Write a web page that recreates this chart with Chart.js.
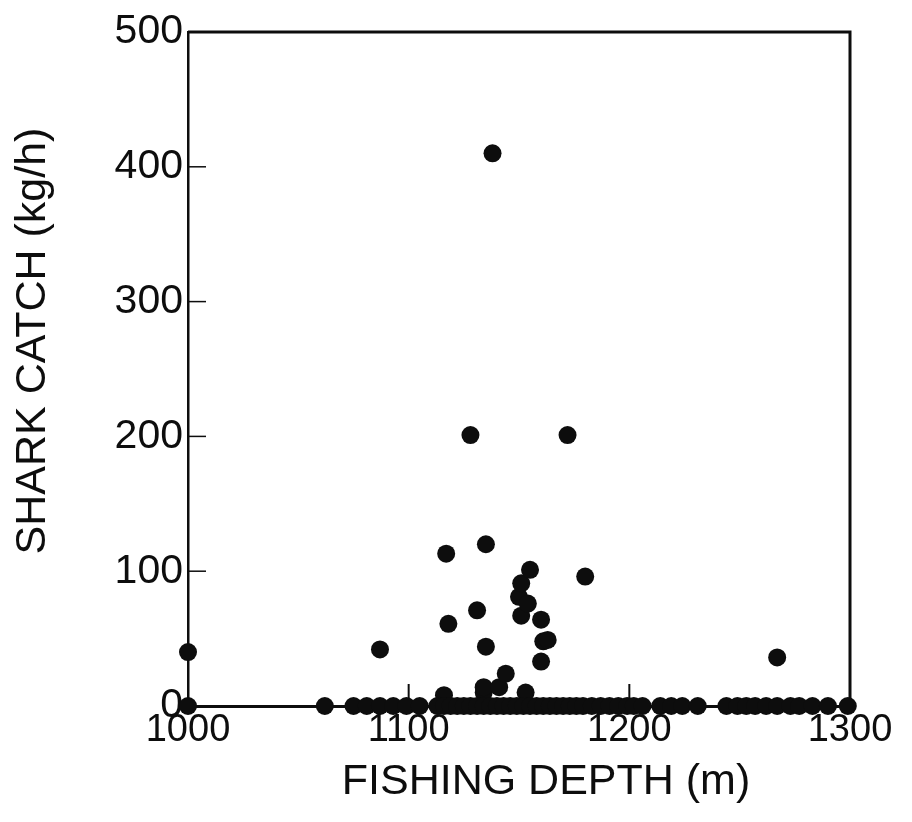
<!DOCTYPE html>
<html>
<head>
<meta charset="utf-8">
<script src="https://cdn.jsdelivr.net/npm/chart.js@4/dist/chart.umd.min.js"></script>
<style>
  html, body { margin: 0; padding: 0; background: #fff; }
  #wrap { width: 912px; height: 822px; }
</style>
</head>
<body>
<div id="wrap"><canvas id="c" width="912" height="822"></canvas></div>
<script>
// ---- data ----
const depthCatch = [1000, 1087, 1116, 1117, 1118, 1128, 1131, 1134, 1134, 1135, 1135, 1138, 1141, 1144,
                    1150, 1151, 1151, 1153, 1154, 1155, 1160, 1160, 1161, 1163, 1172, 1180, 1267];
const catchKgH   = [40, 42, 8, 113, 61, 201, 71, 10, 14, 44, 120, 410, 14, 24,
                    81, 91, 67, 10, 76, 101, 64, 33, 48, 49, 201, 96, 36];
const depthZeroCatch = [1000, 1062, 1075, 1081, 1087, 1093, 1099, 1105, 1113, 1116, 1119, 1122, 1125, 1128,
                        1131, 1134, 1137, 1140, 1143, 1146, 1149, 1152, 1155, 1158, 1161, 1164, 1167, 1170,
                        1173, 1176, 1179, 1183, 1187, 1191, 1195, 1199, 1202, 1206, 1214, 1219, 1224, 1231,
                        1244, 1249, 1253, 1257, 1262, 1267, 1273, 1277, 1283, 1290, 1299];
const xTickValues = [1000, 1100, 1200, 1300];
const yTickValues = [0, 100, 200, 300, 400, 500];
const xTitle = 'FISHING DEPTH (m)';
const yTitle = 'SHARK CATCH (kg/h)';

const positivePoints = depthCatch.map((d, i) => ({ x: d, y: catchKgH[i] }));
const zeroPoints = depthZeroCatch.map(d => ({ x: d, y: 0 }));

const INK = '#0d0d0d';
const FONT = "'Liberation Sans', Arial, Helvetica, sans-serif";

const frameAndTicks = {
  id: 'frameAndTicks',
  beforeDatasetsDraw(chart) {
    const { ctx, chartArea: a, scales } = chart;
    ctx.save();
    ctx.strokeStyle = INK;
    // box top and right
    ctx.lineWidth = 3;
    ctx.beginPath();
    ctx.moveTo(a.left, a.top);
    ctx.lineTo(a.right, a.top);
    ctx.lineTo(a.right, a.bottom);
    ctx.stroke();
    // inward ticks on y axis
    ctx.lineWidth = 1.5;
    scales.y.ticks.forEach(t => {
      if (t.value <= 0 || t.value >= 500) return;
      const py = scales.y.getPixelForValue(t.value);
      ctx.beginPath();
      ctx.moveTo(a.left, py);
      ctx.lineTo(a.left + 18, py);
      ctx.stroke();
    });
    // inward ticks on x axis
    ctx.lineWidth = 2;
    scales.x.ticks.forEach(t => {
      if (t.value <= 1000 || t.value >= 1300) return;
      const px = scales.x.getPixelForValue(t.value);
      ctx.beginPath();
      ctx.moveTo(px, a.bottom);
      ctx.lineTo(px, a.bottom - 22);
      ctx.stroke();
    });
    // axis titles (placed off-centre as in the reference)
    ctx.fillStyle = INK;
    ctx.font = "43px " + FONT;
    ctx.textAlign = 'center';
    ctx.textBaseline = 'middle';
    ctx.fillText(xTitle, (a.left + a.right) / 2 + 27, 782);
    ctx.translate(33, (a.top + a.bottom) / 2 - 28);
    ctx.rotate(-Math.PI / 2);
    ctx.fillText(yTitle, 0, 0);
    ctx.restore();
  }
};

new Chart(document.getElementById('c'), {
  type: 'scatter',
  data: {
    datasets: [
      { data: zeroPoints, pointRadius: 9, pointBackgroundColor: INK, pointBorderColor: INK, pointBorderWidth: 0, clip: false },
      { data: positivePoints, pointRadius: 9, pointBackgroundColor: INK, pointBorderColor: INK, pointBorderWidth: 0, clip: false }
    ]
  },
  options: {
    responsive: false,
    animation: false,
    devicePixelRatio: 1,
    layout: { padding: { left: 0, top: 32, right: 62, bottom: 0 } },
    plugins: { legend: { display: false }, tooltip: { enabled: false } },
    scales: {
      x: {
        type: 'linear',
        min: 1000, max: 1300,
        afterBuildTicks: s => { s.ticks = xTickValues.map(v => ({ value: v })); },
        afterFit: s => { s.height = 116; },
        grid: { display: false, drawTicks: false },
        border: { display: true, color: INK, width: 3 },
        ticks: { color: INK, font: { family: FONT, size: 38 }, padding: 2, maxRotation: 0,
                 callback: v => String(v) },
        title: { display: false, text: xTitle }
      },
      y: {
        type: 'linear',
        min: 0, max: 500,
        afterBuildTicks: s => { s.ticks = yTickValues.map(v => ({ value: v })); },
        afterFit: s => { s.width = 188; },
        grid: { display: false, drawTicks: false },
        border: { display: true, color: INK, width: 2.5 },
        ticks: { color: INK, font: { family: FONT, size: 41 }, padding: 5, callback: v => String(v) },
        title: { display: false, text: yTitle }
      }
    }
  },
  plugins: [frameAndTicks]
});
</script>
</body>
</html>
